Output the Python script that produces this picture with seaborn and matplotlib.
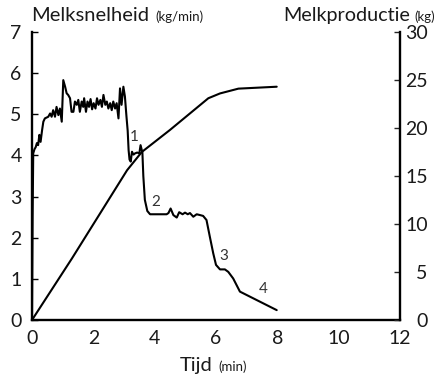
import matplotlib
matplotlib.use("Agg")
import matplotlib.pyplot as plt
import seaborn as sns
import pandas as pd

# Melksnelheid (kg/min) over time (min)
rate_time = [0.0, 0.02, 0.04, 0.08, 0.12, 0.16, 0.20, 0.24, 0.28, 0.33, 0.37, 0.42, 0.53, 0.59, 0.64,
             0.69, 0.75, 0.80, 0.86, 0.91, 0.97, 1.02, 1.08, 1.13, 1.18, 1.24, 1.29, 1.35, 1.40,
             1.46, 1.51, 1.56, 1.62, 1.67, 1.70, 1.76, 1.81, 1.86, 1.91, 1.96, 2.01, 2.07, 2.12,
             2.17, 2.23, 2.28, 2.33, 2.39, 2.44, 2.49, 2.55, 2.60, 2.65, 2.71, 2.76, 2.82, 2.87,
             2.92, 2.98, 3.03, 3.08, 3.12, 3.15, 3.18, 3.22, 3.26, 3.31, 3.36, 3.43, 3.50, 3.54,
             3.60, 3.63, 3.68, 3.76, 3.85, 4.39, 4.45, 4.52, 4.61, 4.72, 4.80, 4.91, 4.99, 5.08,
             5.15, 5.26, 5.37, 5.48, 5.58, 5.69, 5.80, 5.91, 6.00, 6.13, 6.29, 6.40, 6.56, 6.78,
             7.98]
rate_value = [0.0, 2.5, 4.05, 4.15, 4.2, 4.3, 4.25, 4.5, 4.33, 4.62, 4.82, 4.9, 4.94, 5.02, 4.94,
              5.1, 4.94, 5.18, 4.98, 5.14, 4.82, 5.83, 5.67, 5.51, 5.47, 5.39, 5.06, 5.06, 5.31,
              5.23, 5.35, 5.06, 5.31, 5.18, 5.39, 5.06, 5.31, 5.18, 5.37, 5.12, 5.27, 5.14, 5.39,
              5.23, 5.35, 5.18, 5.47, 5.23, 5.31, 5.14, 5.27, 5.10, 5.31, 5.14, 5.27, 4.90, 5.63,
              5.23, 5.67, 5.43, 4.95, 4.6, 4.13, 3.9, 3.85, 4.09, 4.02, 4.05, 4.07, 4.05, 4.25,
              4.07, 3.5, 2.92, 2.65, 2.57, 2.57, 2.6, 2.71, 2.55, 2.49, 2.62, 2.57, 2.61, 2.57,
              2.6, 2.51, 2.57, 2.55, 2.53, 2.43, 2.02, 1.62, 1.34, 1.23, 1.23, 1.17, 1.01, 0.69,
              0.24]

# Melkproductie (kg) cumulative
prod_time = [0.0, 1.3, 3.1, 3.58, 4.5, 5.75, 6.13, 6.73, 7.98]
prod_value = [0.0, 6.4, 15.6, 17.5, 19.8, 23.1, 23.6, 24.1, 24.3]

# Phase labels
phase_labels = ["1", "2", "3", "4"]
phase_x = [3.32, 4.02, 6.24, 7.55]
phase_y = [4.45, 2.88, 1.55, 0.75]

sns.set_style("white")
plt.rcParams['font.family'] = ['Lato', 'DejaVu Sans']
txt = "#1a1a1a"

fig = plt.figure(figsize=(4.48, 3.77), dpi=100)
ax = fig.add_axes([32/448, 1 - 320/377, 368/448, 288/377])
ax2 = ax.twinx()

df_rate = pd.DataFrame({"t": rate_time, "v": rate_value})
df_prod = pd.DataFrame({"t": prod_time, "v": prod_value})
sns.lineplot(data=df_rate, x="t", y="v", ax=ax, color="black", lw=1.5, sort=False, estimator=None)
sns.lineplot(data=df_prod, x="t", y="v", ax=ax2, color="black", lw=1.5, sort=False, estimator=None)

ax.set_xlim(0, 12)
ax.set_ylim(0, 7)
ax2.set_ylim(0, 30)
ax.set_xticks([0, 2, 4, 6, 8, 10, 12])
ax.set_yticks(range(0, 8))
ax2.set_yticks([0, 5, 10, 15, 20, 25, 30])

for a in (ax, ax2):
    a.set_xlabel("")
    a.set_ylabel("")
    for s in a.spines.values():
        s.set_visible(False)
ax.spines['left'].set_visible(True)
ax.spines['bottom'].set_visible(True)
ax2.spines['right'].set_visible(True)
for s in (ax.spines['left'], ax.spines['bottom'], ax2.spines['right']):
    s.set_linewidth(1.7)
    s.set_color("black")

ax.tick_params(axis='both', direction='in', length=4, width=1, labelsize=14, colors="black",
               labelcolor=txt)
ax.tick_params(axis='x', pad=7.5)
ax.tick_params(axis='y', pad=7.5)
ax2.tick_params(axis='y', direction='in', length=4, width=1, labelsize=14, labelcolor=txt, pad=20)
for lab in ax2.get_yticklabels():
    lab.set_horizontalalignment('right')

for lab, x, y in zip(phase_labels, phase_x, phase_y):
    ax.text(x, y, lab, fontsize=11, color="#333333", ha="center", va="center")

fig.text(31/448, 1 - 21/377, "Melksnelheid", fontsize=14.5, color=txt, ha="left", va="baseline")
fig.text(155/448, 1 - 21/377, "(kg/min)", fontsize=9.5, color=txt, ha="left", va="baseline")
fig.text(283/448, 1 - 21/377, "Melkproductie", fontsize=14.2, color=txt, ha="left", va="baseline")
fig.text(414/448, 1 - 21/377, "(kg)", fontsize=9.5, color=txt, ha="left", va="baseline")

fig.text(180/448, 1 - 371/377, "Tijd", fontsize=14.5, color=txt, ha="left", va="baseline")
fig.text(218/448, 1 - 371/377, "(min)", fontsize=9.5, color=txt, ha="left", va="baseline")

fig.savefig("out.png", dpi=100, facecolor="white")
